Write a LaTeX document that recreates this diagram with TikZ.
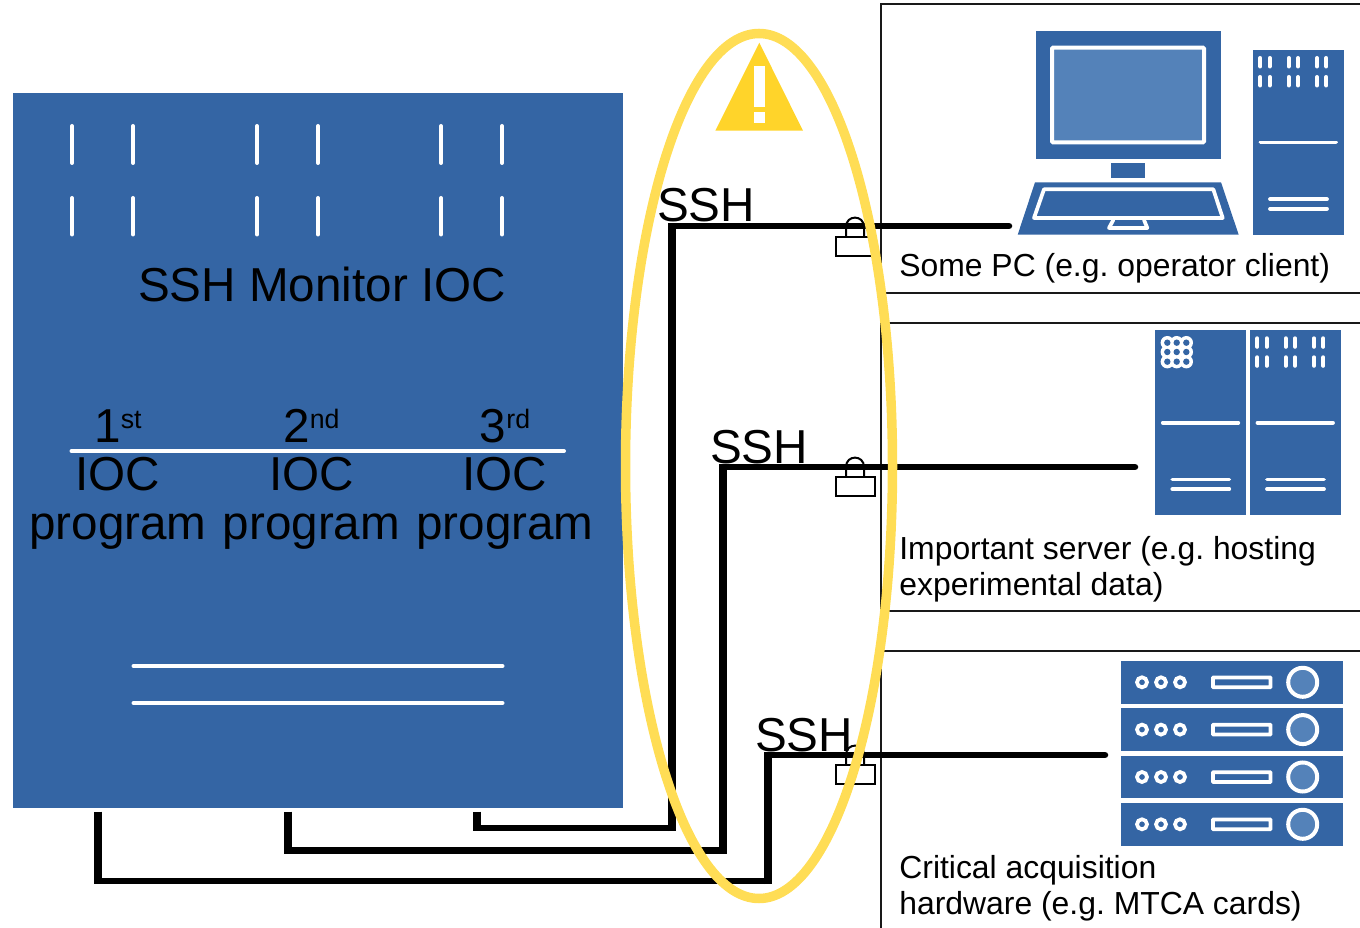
\documentclass[tikz,border=0pt]{standalone}
\usepackage{fontspec}
\setmainfont{Liberation Sans}
\frenchspacing
\definecolor{rackblue}{HTML}{3465A4}
\definecolor{screenblue}{HTML}{5482B9}
\definecolor{warnring}{HTML}{FFDD55}
\definecolor{warnfill}{HTML}{FFD42A}
\tikzset{
	bigtext/.style={inner sep=0pt, font=\fontsize{27.1}{27.2}\selectfont},
	paneltext/.style={inner sep=0pt, font=\fontsize{18.15}{20.5}\selectfont},
	panelline/.style={line width=0.045cm, color=black!90},
	whiteline/.style={line width=0.075cm, color=white, line cap=round},
	whitebar/.style={line width=0.08cm, color=white, line cap=round},
	linkv/.style={line width=0.175cm, shorten <=-0.065cm, shorten >=-0.065cm},
	linkh/.style={line width=0.13cm, line cap=round},
	lockline/.style={line width=0.04cm},
	bluebox/.style={draw=none, fill=rackblue, inner sep=0pt}
}
% tower, upper left corner at #1
\newcommand{\towerbox}[1]{
	\begin{scope}[shift={(#1)}]
		\fill[rackblue] (0, 0) rectangle (90.5, 185);
		\draw[whiteline] (7.5, 92.4) -- (83, 92.4);
		\draw[whiteline] (17, 149.2) -- (74, 149.2);
		\draw[whiteline] (17, 158.8) -- (74, 158.8);
	\end{scope}
}
\newcommand{\towerslots}[1]{
	\begin{scope}[shift={(#1)}]
		\foreach \tx in {7.3, 16.7, 35.7, 45, 64, 73.3} {
			\draw[whitebar] (\tx, 8) -- (\tx, 16.5);
			\draw[whitebar] (\tx, 27) -- (\tx, 35.5);
		}
	\end{scope}
}
% rack unit, upper left corner at #1
\newcommand{\rackunit}[1]{
	\begin{scope}[shift={(#1)}]
		\fill[rackblue] (0, 0) rectangle (222.7, 42.7);
		\foreach \dx in {21.3, 40.3, 59.3}
			\draw[whiteline] (\dx, 21.3) circle (5);
		\draw[whiteline, rounded corners=0.01cm] (92.3, 16.5) rectangle (149.7, 26.3);
		\draw[line width=0.08cm, color=white, fill=screenblue] (182, 21.3) circle (14.5);
	\end{scope}
}
% padlock, left end of its box at #1
\newcommand{\padlock}[1]{
	\begin{scope}[shift={(#1)}]
		\draw[lockline] (0, 0) rectangle (39, 19);
		\draw[lockline] (10, 0) -- (10, -10) .. controls (10, -22.5) and (28, -22.5) .. (28, -10) -- (28, 0);
	\end{scope}
}
\begin{document}
\begin{tikzpicture}[x=0.02cm, y=-0.02cm]
	\useasboundingbox (0, 0) rectangle (1360, 928);

	%%%%% panels %%%%%
	\draw[panelline] (1362, 4) -- (881, 4) -- (881, 293) -- (1362, 293);
	\draw[panelline] (1362, 323) -- (881, 323) -- (881, 611) -- (1362, 611);
	\draw[panelline] (1362, 651) -- (881, 651) -- (881, 930);

	\node[paneltext, anchor=base west] (pclabel) at (899, 276.5) {Some PC (e.g. operator client)};
	\node[paneltext, anchor=base west, align=left] (serverlabel) at (899, 596) {Important server (e.g. hosting\\experimental data)};
	\node[paneltext, anchor=base west, align=left] (hwlabel) at (899, 915) {Critical acquisition\\hardware (e.g. MTCA cards)};

	%%%%% pc %%%%%
	\fill[rackblue] (1035.7, 31) rectangle (1220.7, 159.3);
	\draw[line width=0.08cm, color=white, fill=screenblue, rounded corners=0.02cm] (1052, 47.7) rectangle (1204, 142.3);
	\fill[rackblue] (1111, 163.3) rectangle (1145, 178);
	\fill[rackblue] (1035, 182.3) -- (1221, 182.3) -- (1238.7, 234.7) -- (1017.7, 234.7) -- cycle;
	\draw[whiteline, line join=round] (1044, 189.3) -- (1213.3, 189.3) -- (1222.7, 218) -- (1034, 218) -- cycle;
	\draw[whiteline, line join=round] (1113.3, 220) -- (1109, 228) -- (1147.3, 228) -- (1144, 220);
	\towerbox{1253, 50}
	\towerslots{1253, 50}

	%%%%% servers %%%%%
	\towerbox{1155.3, 330.3}
	\towerbox{1250, 330.3}
	\towerslots{1250, 330.3}
	\foreach \cx in {1167.3, 1176.7, 1186.3}
		\foreach \cy in {342.7, 352, 361.7}
			\fill[white] (\cx, \cy) circle (6.7);
	\foreach \cx in {1167.3, 1176.7, 1186.3}
		\foreach \cy in {342.7, 352, 361.7}
			\fill[rackblue] (\cx, \cy) circle (3.2);

	%%%%% racks %%%%%
	\foreach \ry in {661, 708.3, 755.7, 803}
		\rackunit{1120.7, \ry};

	%%%%% monitor %%%%%
	\node[bluebox, minimum width=12.21cm, minimum height=14.32cm] (monitor) at (317.9, 450.5) {};
	\foreach \sx in {72, 133, 257, 318, 441, 502} {
		\draw[whitebar] (\sx, 126) -- (\sx, 163);
		\draw[whitebar] (\sx, 198) -- (\sx, 234.5);
	}
	\draw[whitebar] (71.5, 451) -- (564, 451);
	\draw[whitebar] (133.5, 666) -- (502.5, 666);
	\draw[whitebar] (133.5, 703) -- (502.5, 703);

	\node[bigtext, anchor=base] (monitortitle) at (322, 302) {SSH Monitor IOC};
	\foreach \px/\ln/\lnum/\lsup in {118/a/1/st, 311.5/b/2/nd, 505/c/3/rd} {
		\node[bigtext, anchor=base] (ord\ln) at (\px, 443) {\lnum\raisebox{8.5pt}{\fontsize{15.2}{15}\selectfont\lsup}};
		\node[bigtext, anchor=base] (ioc\ln) at (\px, 490.7) {IOC};
		\node[bigtext, anchor=base] (prog\ln) at (\px, 540) {program};
	}

	%%%%% locks and links %%%%%
	\padlock{836, 237}
	\padlock{836, 477}
	\padlock{836, 765}

	\coordinate (outa) at (98, 815);
	\coordinate (cornera) at (98, 881);
	\coordinate (upa) at (768, 881);
	\coordinate (topa) at (768, 755);
	\coordinate (hosta) at (1105, 755);
	\coordinate (outb) at (288, 815);
	\coordinate (cornerb) at (288, 850.5);
	\coordinate (upb) at (723, 850.5);
	\coordinate (topb) at (723, 467);
	\coordinate (hostb) at (1135, 467);
	\coordinate (outc) at (477, 815);
	\coordinate (cornerc) at (477, 828);
	\coordinate (upc) at (672, 828);
	\coordinate (topc) at (672, 226);
	\coordinate (hostc) at (1009, 226);

	\draw[linkv] (outa) -- (cornera);
	\draw[linkh] (cornera) -- (upa);
	\draw[linkv] (upa) -- (topa);
	\draw[linkh] (topa) -- (hosta);
	\draw[linkv] (outb) -- (cornerb);
	\draw[linkh] (cornerb) -- (upb);
	\draw[linkv] (upb) -- (topb);
	\draw[linkh] (topb) -- (hostb);
	\draw[linkv] (outc) -- (cornerc);
	\draw[linkh] (cornerc) -- (upc);
	\draw[linkv] (upc) -- (topc);
	\draw[linkh] (topc) -- (hostc);

	\node[bigtext, anchor=base] (sshc) at (706, 221.7) {SSH};
	\node[bigtext, anchor=base] (sshb) at (759, 463.5) {SSH};
	\node[bigtext, anchor=base] (ssha) at (804, 751.7) {SSH};

	%%%%% warning %%%%%
	\fill[warnfill] (759.3, 42.7) -- (803, 130.7) -- (715.3, 130.7) -- cycle;
	\fill[white] (753.7, 65.7) rectangle (765, 106.7);
	\fill[white] (753.7, 111.7) rectangle (765, 123);
	\draw[warnring, line width=0.19cm] (759, 466) ellipse (133.5 and 432.5);
\end{tikzpicture}
\end{document}
